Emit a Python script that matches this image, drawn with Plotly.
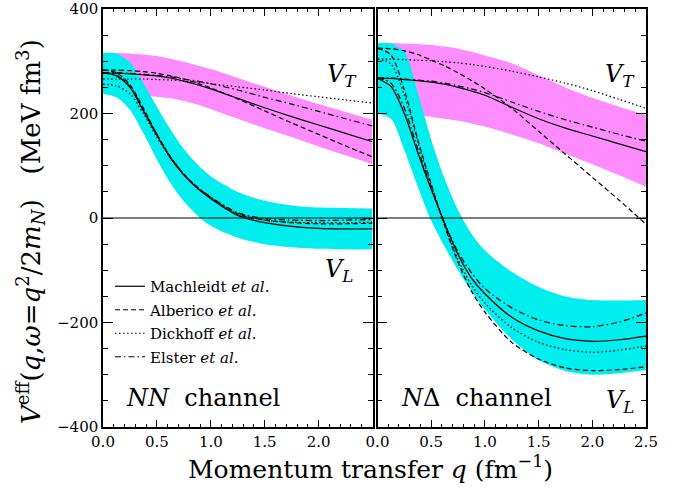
import plotly.graph_objects as go

# ---------------- data ----------------
Q = [0, 0.125, 0.25, 0.375, 0.5, 0.625, 0.75, 0.875, 1.0, 1.25, 1.5, 1.75, 2.0, 2.25, 2.5]

# NN channel, transverse
nn_vt_machleidt = [277, 277, 276, 274, 272, 268, 262, 255, 247, 229, 211, 194, 178, 162, 146]
nn_vt_alberico = [283, 283, 282, 280, 277, 272, 266, 258, 249, 228, 205, 182, 160, 138, 117]
nn_vt_dickhoff = [266, 266, 266, 266, 265, 264, 262, 260, 257, 251, 245, 238, 232, 226, 220]
nn_vt_elster = [278, 278, 277, 275, 273, 270, 266, 262, 257, 245, 231, 218, 204, 190, 176]
nn_vt_band_hi = [316, 316, 315, 313, 310, 305, 299, 292, 285, 268, 251, 234, 218, 203, 188]
nn_vt_band_lo = [240, 239, 237, 235, 232, 229, 224, 217, 208, 190, 172, 155, 137, 120, 103]

# NN channel, longitudinal
nn_vl_machleidt = [277, 272, 250, 205, 158, 115, 82, 57, 37, 5, -9, -16, -20, -21, -21]
nn_vl_alberico = [283, 278, 255, 210, 160, 117, 84, 59, 39, 8, -4, -9, -11, -11, -10]
nn_vl_dickhoff = [256, 253, 238, 200, 155, 115, 83, 58, 39, 8, -4, -8, -9, -9, -8]
nn_vl_elster = [278, 273, 252, 208, 160, 117, 84, 59, 40, 10, -1, -4, -5, -4, -3]
nn_vl_band_hi = [316, 315, 298, 258, 213, 170, 132, 103, 80, 50, 33, 24, 20, 19, 18]
nn_vl_band_lo = [238, 231, 207, 162, 112, 67, 32, 5, -15, -38, -50, -56, -59, -60, -60]

# N-Delta channel, transverse
nd_vt_machleidt = [267, 267, 265, 263, 260, 256, 250, 243, 235, 212, 190, 172, 157, 142, 127]
nd_vt_alberico = [325, 324, 320, 313, 302, 291, 278, 263, 247, 210, 166, 122, 78, 34, -12]
nd_vt_dickhoff = [304, 304, 303, 302, 301, 299, 297, 294, 290, 281, 270, 258, 244, 227, 210]
nd_vt_elster = [268, 268, 266, 264, 262, 258, 253, 247, 240, 222, 204, 188, 174, 160, 147]
nd_vt_band_hi = [335, 335, 334, 333, 331, 328, 324, 318, 311, 296, 273, 250, 230, 213, 197]
nd_vt_band_lo = [200, 199, 198, 196, 194, 190, 186, 181, 175, 160, 143, 123, 103, 82, 60]

# N-Delta channel, longitudinal
nd_vl_machleidt = [267, 252, 200, 125, 55, -10, -70, -115, -145, -190, -216, -231, -236, -233, -226]
nd_vl_alberico = [325, 312, 245, 150, 65, -15, -85, -140, -180, -238, -270, -287, -292, -290, -285]
nd_vl_dickhoff = [304, 295, 235, 145, 62, -13, -80, -128, -163, -210, -238, -252, -257, -253, -245]
nd_vl_elster = [268, 258, 210, 132, 58, -10, -65, -105, -135, -172, -195, -206, -208, -199, -182]
nd_vl_band_hi = [335, 334, 318, 240, 150, 75, 15, -30, -62, -103, -132, -150, -157, -158, -157]
nd_vl_band_lo = [200, 190, 130, 60, -5, -55, -100, -140, -175, -232, -272, -293, -300, -297, -291]

models = ["Machleidt", "Alberico", "Dickhoff", "Elster"]
x_ticks = [0, 0.5, 1.0, 1.5, 2.0, 2.5]
left_tick_text = ["0.0", "0.5", "1.0", "1.5", "2.0", ""]
right_tick_text = ["0.0", "0.5", "1.0", "1.5", "2.0", "2.5"]
y_ticks = [-400, -200, 0, 200, 400]

# ---------------- styling ----------------
FONT = "DejaVu Serif"
MAGENTA = "#FF8CFF"
CYAN = "#00EEEE"
DASHES = ["solid", "5px,3px", "1.5px,2.5px", "6px,3px,1.5px,3px"]
LW = 1.2

fig = go.Figure()


def add_band(lo, hi, color, xa, ya):
    fig.add_trace(go.Scatter(x=Q, y=lo, mode="lines", line=dict(width=0, shape="spline", smoothing=0.8),
                             showlegend=False, hoverinfo="skip", xaxis=xa, yaxis=ya))
    fig.add_trace(go.Scatter(x=Q, y=hi, mode="lines", line=dict(width=0, shape="spline", smoothing=0.8),
                             fill="tonexty", fillcolor=color, showlegend=False, hoverinfo="skip",
                             xaxis=xa, yaxis=ya))


def add_lines(series, xa, ya, legend):
    for i, (name, ys) in enumerate(zip(models, series)):
        fig.add_trace(go.Scatter(
            x=Q, y=ys, mode="lines",
            line=dict(color="black", width=LW, dash=DASHES[i], shape="spline", smoothing=0.8),
            name=f"{name} <i>et al.</i>", legendgroup=name,
            showlegend=legend, xaxis=xa, yaxis=ya))


# left panel (NN)
add_band(nn_vt_band_lo, nn_vt_band_hi, MAGENTA, "x", "y")
add_band(nn_vl_band_lo, nn_vl_band_hi, CYAN, "x", "y")
add_lines([nn_vt_machleidt, nn_vt_alberico, nn_vt_dickhoff, nn_vt_elster], "x", "y", True)
add_lines([nn_vl_machleidt, nn_vl_alberico, nn_vl_dickhoff, nn_vl_elster], "x", "y", False)

# right panel (N Delta)
add_band(nd_vt_band_lo, nd_vt_band_hi, MAGENTA, "x2", "y2")
add_band(nd_vl_band_lo, nd_vl_band_hi, CYAN, "x2", "y2")
add_lines([nd_vt_machleidt, nd_vt_alberico, nd_vt_dickhoff, nd_vt_elster], "x2", "y2", False)
add_lines([nd_vl_machleidt, nd_vl_alberico, nd_vl_dickhoff, nd_vl_elster], "x2", "y2", False)

W, H = 685, 489
ml, mr, mt, mb = 103, 39, 9, 62
pw = W - ml - mr
ph = H - mt - mb
split_l = (372.5 - ml) / pw
split_r = (377.5 - ml) / pw

axis_common = dict(
    showline=True, linecolor="black", linewidth=1.5, mirror="ticks",
    ticks="inside", tickcolor="black", tickwidth=1.2,
    showgrid=False, zeroline=False, automargin=False,
    tickfont=dict(family=FONT, size=15, color="black"),
)

fig.update_layout(
    width=W, height=H,
    margin=dict(l=ml, r=mr, t=mt, b=mb, autoexpand=False),
    paper_bgcolor="white", plot_bgcolor="white",
    font=dict(family=FONT, color="black"),
    xaxis=dict(domain=[0, split_l], range=[0, 2.5], tickvals=x_ticks, ticktext=left_tick_text,
               ticklen=7, minor=dict(dtick=0.1, tick0=0, ticklen=3.5, ticks="inside", tickcolor="black"),
               anchor="y", **axis_common),
    xaxis2=dict(domain=[split_r, 1], range=[0, 2.5], tickvals=x_ticks, ticktext=right_tick_text,
                ticklen=7, minor=dict(dtick=0.1, tick0=0, ticklen=3.5, ticks="inside", tickcolor="black"),
                anchor="y2", **axis_common),
    yaxis=dict(domain=[0, 1], range=[-400, 400], tickvals=y_ticks, ticklen=10,
               minor=dict(dtick=50, tick0=0, ticklen=5, ticks="inside", tickcolor="black"),
               anchor="x", **axis_common),
    yaxis2=dict(domain=[0, 1], range=[-400, 400], tickvals=y_ticks, ticklen=10, showticklabels=False,
                minor=dict(dtick=50, tick0=0, ticklen=5, ticks="inside", tickcolor="black"),
                anchor="x2", matches="y", **axis_common),
    showlegend=True,
    legend=dict(x=(110 - ml) / pw, y=(H - mb - 270) / ph, xanchor="left", yanchor="top",
                bgcolor="rgba(0,0,0,0)",
                font=dict(family=FONT, size=15, color="black"), itemwidth=30, tracegroupgap=1),
)

# zero lines on top of the bands
for xr, yr in [("x domain", "y"), ("x2 domain", "y2")]:
    fig.add_shape(type="line", xref=xr, yref=yr, x0=0, x1=1, y0=0, y1=0,
                  line=dict(color="black", width=1.2), layer="above")

fig.add_annotation(text="<i>V</i><sup>eff</sup>(<i>q</i>,<i>ω</i>=<i>q</i><sup>2</sup>/2<i>m</i><sub><i>N</i></sub>)&nbsp;&nbsp;&nbsp;(MeV&nbsp;fm<sup>3</sup>)",
                   xref="paper", yref="paper", x=(30 - ml) / pw, y=(H - mb - 232) / ph,
                   textangle=-90, showarrow=False, font=dict(family=FONT, size=26, color="black"),
                   xanchor="center", yanchor="middle")
fig.add_annotation(text="Momentum transfer <i>q</i> (fm<sup>−1</sup>)",
                   xref="paper", yref="paper", x=(370 - ml) / pw, y=(H - mb - 467) / ph,
                   showarrow=False, font=dict(family=FONT, size=25, color="black"),
                   xanchor="center", yanchor="middle")

lab_font = dict(family=FONT, size=24, color="black")
fig.add_annotation(text="<i>NN</i>  channel", xref="x", yref="y", x=0.93, y=-345, showarrow=False,
                   font=lab_font, xanchor="center", yanchor="middle")
fig.add_annotation(text="<i>N</i>Δ  channel", xref="x2", yref="y2", x=0.92, y=-345, showarrow=False,
                   font=lab_font, xanchor="center", yanchor="middle")
fig.add_annotation(text="<i>V<sub>T</sub></i>", xref="x", yref="y", x=2.22, y=272, showarrow=False,
                   font=lab_font, xanchor="center", yanchor="middle")
fig.add_annotation(text="<i>V<sub>T</sub></i>", xref="x2", yref="y2", x=2.26, y=272, showarrow=False,
                   font=lab_font, xanchor="center", yanchor="middle")
fig.add_annotation(text="<i>V<sub>L</sub></i>", xref="x", yref="y", x=2.19, y=-100, showarrow=False,
                   font=lab_font, xanchor="center", yanchor="middle")
fig.add_annotation(text="<i>V<sub>L</sub></i>", xref="x2", yref="y2", x=2.26, y=-352, showarrow=False,
                   font=lab_font, xanchor="center", yanchor="middle")

fig.write_html("out.html")
